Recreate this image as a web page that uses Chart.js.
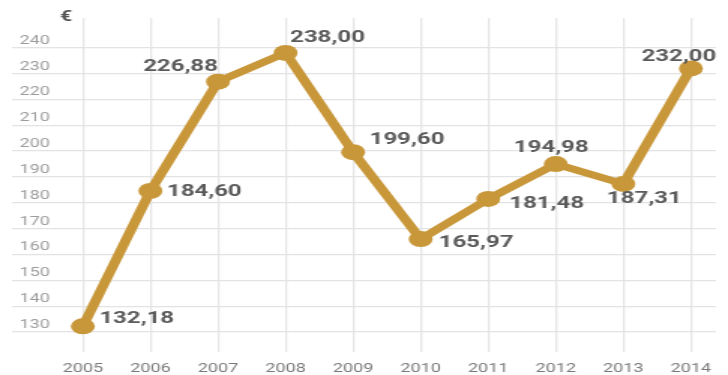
<!DOCTYPE html>
<html><head><meta charset="utf-8">
<script src="https://cdn.jsdelivr.net/npm/chart.js@4.4.1/dist/chart.umd.min.js"></script>
<style>
html,body{margin:0;padding:0;background:#fff;overflow:hidden}
</style>
</head><body>
<canvas id="c" width="485" height="375" style="display:block;width:728px;height:375px"></canvas>
<script>
// ---- data ----
const years = ['2005','2006','2007','2008','2009','2010','2011','2012','2013','2014'];
const prices = [132.18, 184.60, 226.88, 238.00, 199.60, 165.97, 181.48, 194.98, 187.31, 232.00];
const yTickValues = [130, 140, 150, 160, 170, 180, 190, 200, 210, 220, 230, 240];
const unitLabel = '€';

// ---- styling: where each value label sits relative to its point ----
const labelPlacement = [
  {align:'left',   dx:11,  dy:-7},
  {align:'left',   dx:11,  dy:1},
  {align:'right',  dx:0,   dy:-15},
  {align:'left',   dx:3,   dy:-15},
  {align:'left',   dx:11,  dy:-12},
  {align:'left',   dx:12,  dy:4},
  {align:'left',   dx:14,  dy:5},
  {align:'center', dx:-3,  dy:-16},
  {align:'center', dx:14,  dy:15},
  {align:'center', dx:-8,  dy:-11}
];

const GOLD = '#C8973A';
const fmt = v => v.toFixed(2).replace('.', ',');

const valueLabels = {
  id: 'valueLabels',
  afterDatasetsDraw(chart) {
    const ctx = chart.ctx;
    const meta = chart.getDatasetMeta(0);
    ctx.save();
    ctx.font = 'bold 16px Roboto';
    ctx.fillStyle = '#5a5a5a';
    ctx.textBaseline = 'middle';
    meta.data.forEach((pt, i) => {
      const p = labelPlacement[i];
      ctx.textAlign = p.align;
      ctx.fillText(fmt(prices[i]), pt.x + p.dx, pt.y + p.dy);
    });
    const ys = chart.scales.y;
    ctx.font = 'bold 14px Roboto';
    ctx.fillStyle = '#555';
    ctx.textAlign = 'center';
    ctx.fillText(unitLabel, chart.chartArea.left + 36, ys.top - 1);
    ctx.restore();
  }
};

new Chart(document.getElementById('c'), {
  type: 'line',
  data: {
    datasets: [{
      data: prices.map((v, i) => ({x: i, y: v})),
      borderColor: GOLD,
      backgroundColor: GOLD,
      borderWidth: 7,
      pointRadius: 8,
      pointBorderWidth: 0,
      pointBackgroundColor: GOLD,
      tension: 0,
      fill: false,
      clip: false
    }]
  },
  options: {
    responsive: false,
    animation: false,
    devicePixelRatio: 1,
    events: [],
    layout: {padding: {left: 8, right: 0, top: 18, bottom: 0}},
    plugins: {legend: {display: false}, tooltip: {enabled: false}},
    scales: {
      x: {
        type: 'linear',
        min: -1.0485,
        max: 9.371,
        afterBuildTicks: s => { s.ticks = years.map((_, i) => ({value: i})); },
        afterFit: s => { s.height = 23; },
        border: {display: false},
        grid: {color: '#e6e6e6', lineWidth: 1.3, drawTicks: false},
        ticks: {
          autoSkip: false,
          maxRotation: 0,
          padding: 10,
          color: '#7a7a7a',
          font: {family: 'Roboto', size: 12},
          callback: v => years[v]
        }
      },
      y: {
        type: 'linear',
        min: 122.26,
        max: 251.5,
        afterBuildTicks: s => { s.ticks = yTickValues.map(v => ({value: v})); },
        afterFit: s => { s.width = 0; },
        border: {display: false},
        grid: {color: '#e3e3e3', lineWidth: 1.3, drawTicks: false},
        ticks: {
          mirror: true,
          padding: 5,
          labelOffset: -7,
          color: '#9c9c9c',
          font: {family: 'Roboto', size: 12},
          callback: v => String(v)
        }
      }
    }
  },
  plugins: [valueLabels]
});
</script>
</body></html>
